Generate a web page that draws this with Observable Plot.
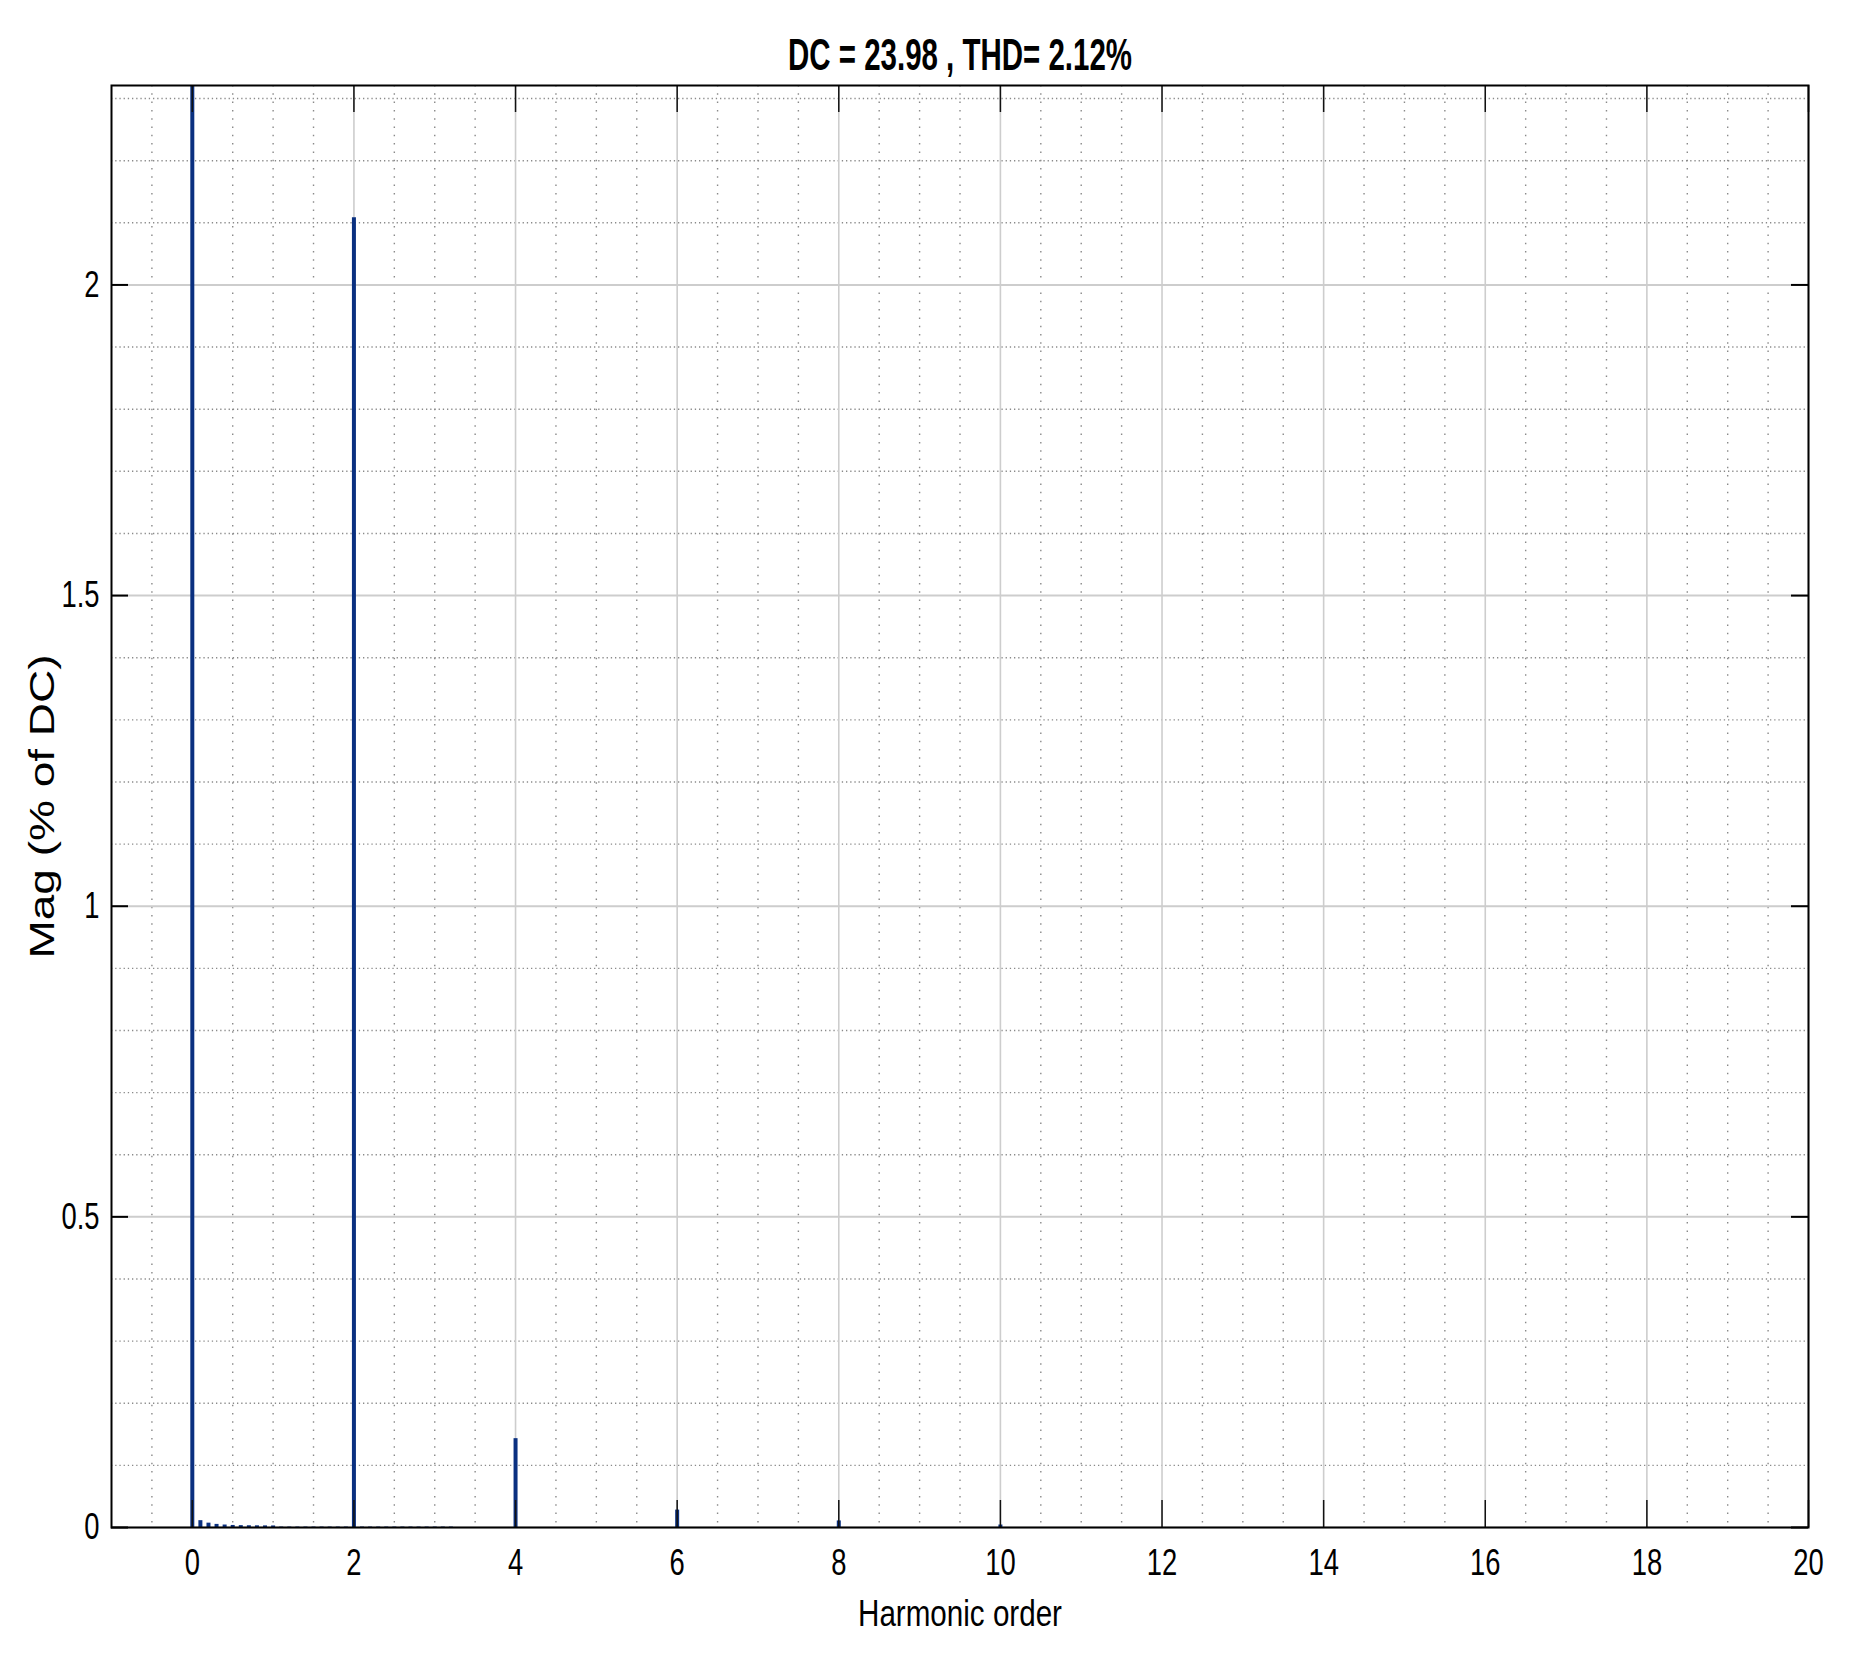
<!DOCTYPE html>
<html>
<head>
<meta charset="utf-8">
<script src="https://cdn.jsdelivr.net/npm/d3@7"></script>
<script src="https://cdn.jsdelivr.net/npm/@observablehq/plot@0.6"></script>
<style>
  html, body { margin: 0; padding: 0; background: #ffffff; }
</style>
</head>
<body>
<div id="chart"></div>
<script>
// ---- text ----
const titleText = "DC = 23.98 , THD= 2.12%";
const xLabel = "Harmonic order";
const yLabel = "Mag (% of DC)";

// ---- data ----
const harmonicOrder = [
  0, 0.1, 0.2, 0.3, 0.4, 0.5, 0.6, 0.7, 0.8, 0.9, 1.0,
  1.1, 1.2, 1.3, 1.4, 1.5, 1.6, 1.7, 1.8, 1.9, 2.0,
  2.1, 2.2, 2.3, 2.4, 2.5, 2.6, 2.7, 2.8, 2.9, 3.0, 3.1, 3.2,
  4, 6, 8, 10
];
const magnitude = [
  100, 0.011, 0.007, 0.005, 0.004, 0.0033, 0.003, 0.0028, 0.0027, 0.0026, 0.0025,
  0.0007, 0.0007, 0.0007, 0.0007, 0.0007, 0.0007, 0.0007, 0.0007, 0.0007, 2.108,
  0.0007, 0.0007, 0.0007, 0.0007, 0.0007, 0.0007, 0.0007, 0.0007, 0.0007, 0.0007, 0.0007, 0.0007,
  0.143, 0.028, 0.0106, 0.004
];

// ---- axes ----
const xDomain = [-1, 20];
const yDomain = [0, 2.321];
const xTicks = [0, 2, 4, 6, 8, 10, 12, 14, 16, 18, 20];
const yTicks = [0, 0.5, 1, 1.5, 2];
const xMinorTicks = d3.range(-1, 41).filter(i => i % 4 !== 0).map(i => i / 2);
const yMinorTicks = d3.range(1, 24).filter(i => i % 5 !== 0).map(i => i / 10);

const data = harmonicOrder.map((h, i) => ({h, m: magnitude[i]}));

const chart = Plot.plot({
  width: 1854,
  height: 1667,
  marginTop: 85,
  marginRight: 46,
  marginBottom: 140,
  marginLeft: 111,
  style: {fontFamily: "'Liberation Sans', Arial, Helvetica, sans-serif", background: "#ffffff", color: "#000000"},
  x: {domain: xDomain},
  y: {domain: yDomain},
  marks: [
    Plot.ruleX(xMinorTicks, {stroke: "#8a8a8a", strokeWidth: 1.4, strokeDasharray: "1.5,6.8"}),
    Plot.ruleY(yMinorTicks, {stroke: "#8a8a8a", strokeWidth: 1.4, strokeDasharray: "1.3,2.9"}),
    Plot.ruleX(xTicks, {stroke: "#cdcdcd", strokeWidth: 1.6}),
    Plot.ruleY(yTicks, {stroke: "#cdcdcd", strokeWidth: 2}),
    Plot.ruleX(data, {x: "h", y1: 0, y2: "m", stroke: "#0a3080", strokeWidth: 4, clip: true}),
    Plot.tickX(xTicks, {x: d => d, insetTop: 1415, stroke: "#111111", strokeWidth: 1.5}),
    Plot.tickX(xTicks, {x: d => d, insetBottom: 1415, stroke: "#111111", strokeWidth: 1.5}),
    Plot.tickY(yTicks, {y: d => d, insetRight: 1680, stroke: "#000000", strokeWidth: 2}),
    Plot.tickY(yTicks, {y: d => d, insetLeft: 1680, stroke: "#000000", strokeWidth: 2}),
    Plot.frame({stroke: "#000000", strokeWidth: 2}),
    Plot.axisX(xTicks, {anchor: "bottom", tickSize: 0, tickPadding: 21, fontSize: 37, label: null, tickFormat: d => String(d)}),
    Plot.axisY(yTicks, {anchor: "left", tickSize: 0, tickPadding: 12, fontSize: 37, label: null, tickFormat: d => String(d)}),
    Plot.text([titleText], {frameAnchor: "top", dy: -16, lineAnchor: "bottom", textAnchor: "middle", fontSize: 44, fontWeight: "bold"}),
    Plot.text([xLabel], {frameAnchor: "bottom", dy: 98, lineAnchor: "bottom", textAnchor: "middle", fontSize: 37}),
    Plot.text([yLabel], {frameAnchor: "left", dx: -58, rotate: -90, lineAnchor: "bottom", textAnchor: "middle", fontSize: 46})
  ]
});

document.getElementById("chart").appendChild(chart);

// horizontal compression of the text, as in the reference
const scaleFor = t => t === titleText ? 0.67 : t === xLabel ? 0.80 : t === yLabel ? 0.76 : 0.74;
chart.querySelectorAll("text").forEach(el => {
  const s = scaleFor(el.textContent);
  const tr = el.getAttribute("transform") || "";
  if (/rotate/.test(tr)) {
    el.setAttribute("transform", tr.replace(/rotate/, `scale(${s},1) rotate`));
  } else {
    const x = parseFloat(el.getAttribute("x")) || 0;
    el.setAttribute("transform", `${tr} translate(${x},0) scale(${s},1) translate(${-x},0)`);
  }
});
</script>
</body>
</html>
